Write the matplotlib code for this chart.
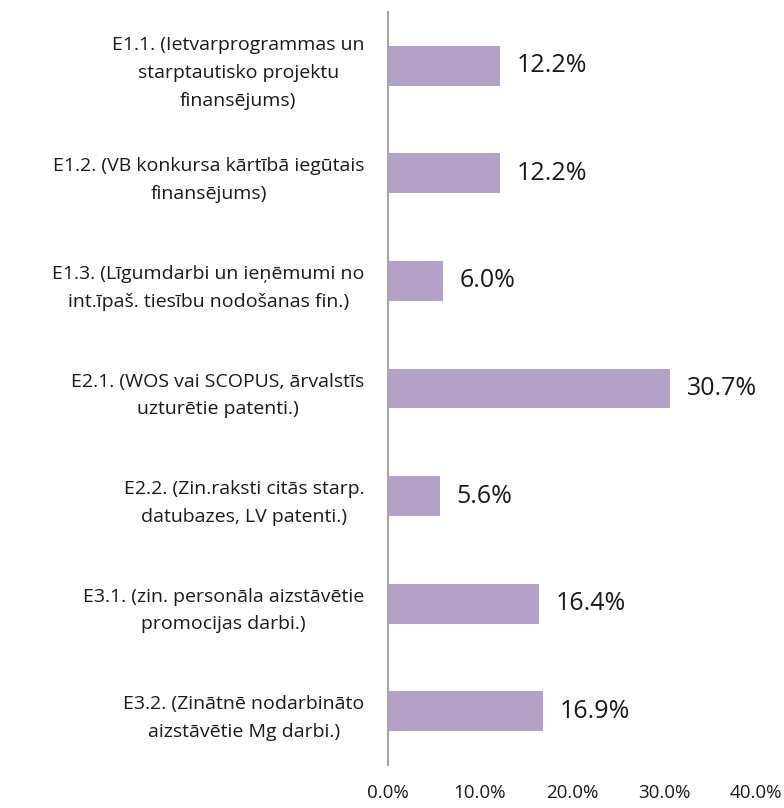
import numpy as np
import matplotlib.pyplot as plt

labels = ['E1.1. (Ietvarprogrammas un\nstarptautisko projektu\nfinansējums)',
          'E1.2. (VB konkursa kārtībā iegūtais\nfinansējums)',
          'E1.3. (Līgumdarbi un ieņēmumi no\nint.īpaš. tiesību nodošanas fin.)',
          'E2.1. (WOS vai SCOPUS, ārvalstīs\nuzturētie patenti.)',
          'E2.2. (Zin.raksti citās starp.\ndatubazes, LV patenti.)',
          'E3.1. (zin. personāla aizstāvētie\npromocijas darbi.)',
          'E3.2. (Zinātnē nodarbināto\naizstāvētie Mg darbi.)']
values = [12.2, 12.2, 6.0, 30.7, 5.6, 16.4, 16.9]
xticks = [0, 10, 20, 30, 40]

plt.rcParams['font.family'] = ['Open Sans', 'DejaVu Sans']

fig = plt.figure(figsize=(7.84, 8.08), dpi=100)
ax = fig.add_axes([0.4949, 0.0532, 0.4694, 0.9319])

y = np.arange(len(values))
ax.barh(y, values, height=0.37, color='#B3A2C7')
ax.set_ylim(len(values) - 0.5, -0.5)
ax.set_xlim(0, 40)

for yi, v in zip(y, values):
    ax.annotate('%.1f%%' % v, (v, yi), xytext=(12, 0), textcoords='offset points',
                va='center', ha='left', fontsize=18, color='#1a1a1a')

ax.set_yticks(y)
ax.set_yticklabels(labels, fontsize=14, multialignment='center', color='#1a1a1a',
                   linespacing=1.7)
ax.set_xticks(xticks)
ax.set_xticklabels(['%.1f%%' % t for t in xticks], fontsize=13.5, color='#1a1a1a')
ax.tick_params(axis='both', length=0)
ax.tick_params(axis='y', pad=17)
ax.tick_params(axis='x', pad=14)

for s in ['top', 'right', 'bottom']:
    ax.spines[s].set_visible(False)
ax.spines['left'].set_color('#A6A6A6')
ax.spines['left'].set_linewidth(1.5)

fig.savefig('out.png', dpi=100)
